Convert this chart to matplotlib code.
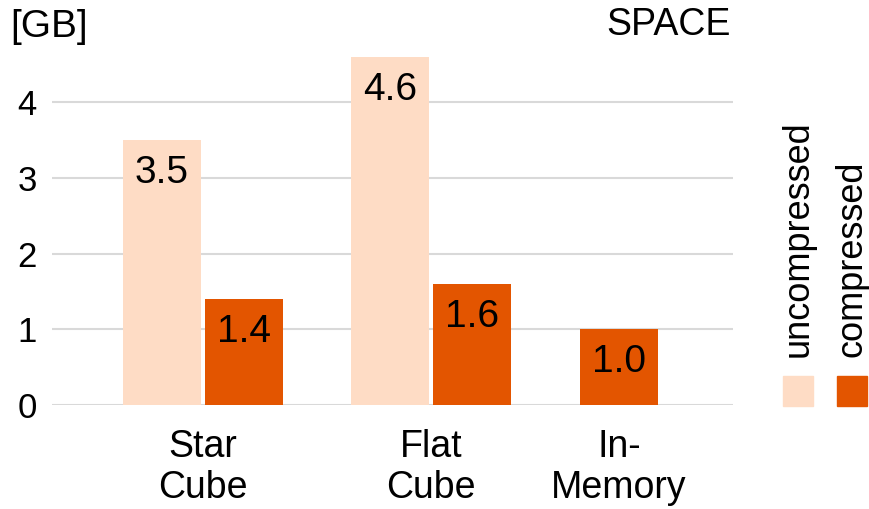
import numpy as np
import matplotlib.pyplot as plt
from matplotlib.patches import Rectangle

plt.rcParams['font.family'] = ['Liberation Sans', 'DejaVu Sans']

# Data
categories = ['Star\nCube', 'Flat\nCube', 'In-\nMemory']
uncompressed = [3.5, 4.6, None]
compressed = [1.4, 1.6, 1.0]
series_names = ['uncompressed', 'compressed']

light = '#fedcc5'
dark = '#e35500'

# group positions (In-Memory has only one bar, so it sits closer)
pos = np.array([0.0, 1.0, 1.825])
w = 0.34
off = 0.18

fig = plt.figure(figsize=(8.69, 5.09), dpi=100)
ax = fig.add_axes([0.0598, 0.2043, 0.7837, 0.6917])

for i, (u, c) in enumerate(zip(uncompressed, compressed)):
    if u is None:
        xs_c = pos[i]
    else:
        ax.bar(pos[i] - off, u, width=w, color=light, zorder=2)
        ax.annotate(f'{u:.1f}', (pos[i] - off, u), xytext=(0, -33),
                    textcoords='offset pixels', ha='center', va='center', fontsize=28)
        xs_c = pos[i] + off
    ax.bar(xs_c, c, width=w, color=dark, zorder=2)
    ax.annotate(f'{c:.1f}', (xs_c, c), xytext=(0, -33),
                textcoords='offset pixels', ha='center', va='center', fontsize=28)

ax.set_xlim(-0.662, 2.325)
ax.set_ylim(0, 4.65)
ax.set_yticks([0, 1, 2, 3, 4])
ax.set_xticks(pos)
ax.set_xticklabels(categories, fontsize=27, linespacing=1.2)
ax.tick_params(axis='y', labelsize=25, length=0, pad=11)
ax.tick_params(axis='x', length=0, pad=17)
ax.grid(axis='y', color='#d9d9d9', linewidth=1.5, zorder=0)
for s in ax.spines.values():
    s.set_visible(False)

fig.text(10 / 869, 1 - 27 / 509, '[GB]', fontsize=28, ha='left', va='center')
fig.text(731 / 869, 1 - 25 / 509, 'SPACE', fontsize=27, ha='right', va='center')

# legend drawn by hand: rotated labels above squares
for xc, name, col in zip([798, 852], series_names, [light, dark]):
    fig.patches.append(Rectangle(((xc - 15) / 869, 1 - 406 / 509), 30 / 869, 30 / 509,
                                 transform=fig.transFigure, color=col))
    fig.text(xc / 869, 1 - 357 / 509, name, rotation=90, fontsize=26,
             ha='center', va='bottom')

plt.savefig('out.png', dpi=100)
